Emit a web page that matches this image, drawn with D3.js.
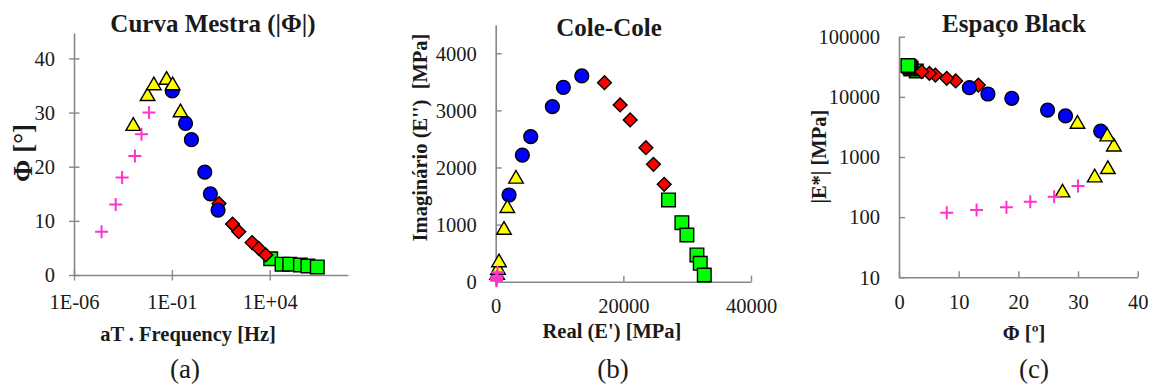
<!DOCTYPE html>
<html><head><meta charset="utf-8">
<script src="https://cdn.jsdelivr.net/npm/d3@7"></script>
<style>
body{margin:0;background:#fff}
svg text{font-family:"Liberation Serif","Times New Roman",serif !important;fill:#1a1a1a}
</style>
</head><body>
<svg id="chart" width="1161" height="387"></svg>
<script>
// ---------- Panel (a): master curve, frequency [Hz] vs phase angle [°]
const aPlusF = [2.57e-5, 1.35e-4, 2.88e-4, 1.29e-3, 2.82e-3, 6.76e-3];
const aPlusPhi = [8, 13, 18, 22, 26, 30];
const aTriF = [1.07e-3, 5.75e-3, 1.2e-2, 5.37e-2, 0.11, 0.275];
const aTriPhi = [27.5, 33, 35, 36, 35, 30];
const aCirF = [0.105, 0.5, 1.0, 4.8, 9.3, 22.9];
const aCirPhi = [34, 28, 25, 19, 15, 12];
const aDiaF = [25.7, 126, 263, 1260, 2750, 6310];
const aDiaPhi = [13.2, 9.4, 8.0, 6.0, 4.9, 3.7];
const aSqF = [1.12e4, 4.27e4, 1.05e5, 3.7e5, 8.9e5, 2.7e6];
const aSqPhi = [3.0, 2.0, 2.0, 1.85, 1.66, 1.5];
const aXTicks = [1e-6, 1e-1, 1e4];
const aXTickLabels = ["1E-06", "1E-01", "1E+04"];
const aYTicks = [0, 10, 20, 30, 40];

// ---------- Panel (b): Cole-Cole, E' vs E'' [MPa]
const bPlusRe = [116, 128, 139, 168, 197, 286];
const bPlusIm = [16, 30, 45, 68, 96, 165];
const bTriRe = [222, 360, 520, 1300, 1820, 3180];
const bTriIm = [115, 205, 336, 905, 1285, 1800];
const bCirRe = [2092, 4175, 5490, 8880, 10600, 13490];
const bCirIm = [1518, 2218, 2540, 3065, 3404, 3602];
const bDiaRe = [17040, 19500, 21070, 23530, 24720, 26400];
const bDiaIm = [3485, 3095, 2833, 2347, 2056, 1706];
const bSqRe = [27070, 29170, 29960, 31530, 32050, 32680];
const bSqIm = [1431, 1033, 818, 468, 322, 117];
const bXTicks = [0, 20000, 40000];
const bYTicks = [0, 1000, 2000, 3000, 4000];

// ---------- Panel (c): Black space, phase angle vs |E*| [MPa]
const cPlusPhi = [8, 13, 18, 22, 26, 30];
const cPlusE = [118, 131, 146, 181, 219, 330];
const cTriPhi = [27.4, 32.8, 35.0, 36.0, 34.9, 29.9];
const cTriE = [255, 453, 624, 1480, 2180, 3540];
const cCirPhi = [33.8, 27.9, 24.9, 18.9, 14.9, 11.8];
const cCirE = [2700, 4810, 6040, 9460, 11150, 14190];
const cDiaPhi = [13.3, 9.5, 8.0, 6.1, 5.1, 3.8];
const cDiaE = [15700, 18400, 20300, 23000, 24500, 26200];
const cSqPhi = [2.9, 2.0, 2.0, 1.85, 1.7, 1.5];
const cSqE = [27000, 29000, 30000, 31000, 32000, 33200];
const cXTicks = [0, 10, 20, 30, 40];
const cYTicks = [10, 100, 1000, 10000, 100000];

const titles = ["Curva Mestra (|Φ|)", "Cole-Cole", "Espaço Black"];
const captions = ["(a)", "(b)", "(c)"];

// ---------- styles
const AX = "#878787";
const FONT = '"Liberation Serif", "Times New Roman", serif';
const COL = {sq: "#00ff00", dia: "#ff0000", cir: "#0000ff", tri: "#ffff00", plus: "#ff33cc"};

const svg = d3.select("#chart");

function drawSeries(g, xs, ys, type, sx, sy) {
  const pts = xs.map((x, i) => [sx(x), sy(ys[i])]);
  const sel = g.append("g").selectAll("path").data(pts).join("path");
  if (type === "plus") {
    const h = 6.5;
    sel.attr("d", d => `M${d[0]-h},${d[1]}H${d[0]+h}M${d[0]},${d[1]-h}V${d[1]+h}`)
      .attr("stroke", COL.plus).attr("stroke-width", 2).attr("fill", "none");
    return;
  }
  let sym, size, rot = 0;
  if (type === "cir") { sym = d3.symbolCircle; size = 150; }
  if (type === "tri") { sym = d3.symbolTriangle; size = 92; }
  if (type === "dia") { sym = d3.symbolSquare; size = 95; rot = 45; }
  if (type === "sq") { sym = d3.symbolSquare; size = 185; }
  sel.attr("d", d3.symbol().type(sym).size(size)())
    .attr("transform", d => `translate(${d[0]},${d[1]}) rotate(${rot})`)
    .attr("fill", COL[type]).attr("stroke", "#000").attr("stroke-width", 1.4);
}

function styleAxis(ag) {
  ag.attr("font-family", null).attr("font-size", null);
  ag.select(".domain").attr("stroke", AX).attr("stroke-width", 1.6);
  ag.selectAll(".tick line").attr("stroke", AX).attr("stroke-width", 1.4);
  ag.selectAll(".tick text").style("font-size", "20.5px").style("fill", "#1a1a1a")
    .style("font-family", FONT);
}

function buildAxes(g, sx, sy, xTicks, xFmt, yTicks, yFmt, tickMode, xLabelY) {
  const xa = g.append("g").attr("transform", `translate(0,${sy.range()[0]})`)
    .call(d3.axisBottom(sx).tickValues(xTicks).tickFormat(xFmt).tickSizeOuter(0).tickSizeInner(0));
  const ya = g.append("g").attr("transform", `translate(${sx.range()[0]},0)`)
    .call(d3.axisLeft(sy).tickValues(yTicks).tickFormat(yFmt).tickSizeOuter(0).tickSizeInner(0));
  styleAxis(xa); styleAxis(ya);
  if (tickMode === "cross") {
    xa.selectAll(".tick line").attr("y1", -5).attr("y2", 5.5);
    ya.selectAll(".tick line").attr("x1", -5).attr("x2", 5.5);
  } else {
    xa.selectAll(".tick line").attr("y1", 0).attr("y2", -6);
    ya.selectAll(".tick line").attr("x1", 0).attr("x2", 6);
  }
  xa.selectAll(".tick text").attr("y", xLabelY).attr("dy", null);
  ya.selectAll(".tick text").attr("x", -19).attr("dy", "0.33em");
}

function addText(x, y, txt, size, bold, rotate) {
  const t = svg.append("text").attr("text-anchor", "middle")
    .style("font-size", size + "px").style("font-weight", bold ? "bold" : "normal")
    .style("font-family", FONT)
    .style("white-space", "pre").text(txt);
  t.attr("transform", `translate(${x},${y})` + (rotate ? " rotate(-90)" : ""));
  return t;
}

// ---------- Panel (a)
{
  const sx = d3.scaleLog().domain([1e-6, 1e8]).range([74, 348]);
  const sy = d3.scaleLinear().domain([0, 44.7]).range([275, 33]);
  const g = svg.append("g");
  buildAxes(g, sx, sy, aXTicks, (d, i) => aXTickLabels[i], aYTicks, d3.format("d"), "cross", 33.5);
  drawSeries(g, aSqF, aSqPhi, "sq", sx, sy);
  drawSeries(g, aDiaF, aDiaPhi, "dia", sx, sy);
  drawSeries(g, aCirF, aCirPhi, "cir", sx, sy);
  drawSeries(g, aTriF, aTriPhi, "tri", sx, sy);
  drawSeries(g, aPlusF, aPlusPhi, "plus", sx, sy);
  addText(213, 32.3, titles[0], 25, true);
  addText(188, 340.5, "aT . Frequency [Hz]", 20.5, true);
  addText(32, 153, "Φ [°]", 27, true, true);
  addText(185, 378, captions[0], 27, false);
}

// ---------- Panel (b)
{
  const sx = d3.scaleLinear().domain([0, 40000]).range([495.7, 751]);
  const sy = d3.scaleLinear().domain([0, 4500]).range([281.7, 24.7]);
  const g = svg.append("g");
  buildAxes(g, sx, sy, bXTicks, d3.format("d"), bYTicks, d3.format("d"), "in", 31.3);
  drawSeries(g, bSqRe, bSqIm, "sq", sx, sy);
  drawSeries(g, bDiaRe, bDiaIm, "dia", sx, sy);
  drawSeries(g, bCirRe, bCirIm, "cir", sx, sy);
  drawSeries(g, bTriRe, bTriIm, "tri", sx, sy);
  drawSeries(g, bPlusRe, bPlusIm, "plus", sx, sy);
  addText(609, 35.5, titles[1], 25, true);
  addText(612, 338, "Real (E') [MPa]", 20.5, true);
  addText(427, 137.5, "Imaginário (E'')  [MPa]", 20.5, true, true);
  addText(613, 378, captions[1], 27, false);
}

// ---------- Panel (c)
{
  const sx = d3.scaleLinear().domain([0, 40]).range([899, 1137.7]);
  const sy = d3.scaleLog().domain([10, 100000]).range([277.3, 36.7]);
  const g = svg.append("g");
  buildAxes(g, sx, sy, cXTicks, d3.format("d"), cYTicks, d3.format("d"), "in", 31.7);
  drawSeries(g, cSqPhi, cSqE, "sq", sx, sy);
  drawSeries(g, cDiaPhi, cDiaE, "dia", sx, sy);
  drawSeries(g, cCirPhi, cCirE, "cir", sx, sy);
  drawSeries(g, cTriPhi, cTriE, "tri", sx, sy);
  drawSeries(g, cPlusPhi, cPlusE, "plus", sx, sy);
  addText(1014, 32.3, titles[2], 25, true);
  addText(1024, 340, "Φ [º]", 20.5, true);
  addText(826, 156.7, "|E*| [MPa]", 20.5, true, true);
  addText(1034, 378, captions[2], 27, false);
}
</script>
</body></html>
